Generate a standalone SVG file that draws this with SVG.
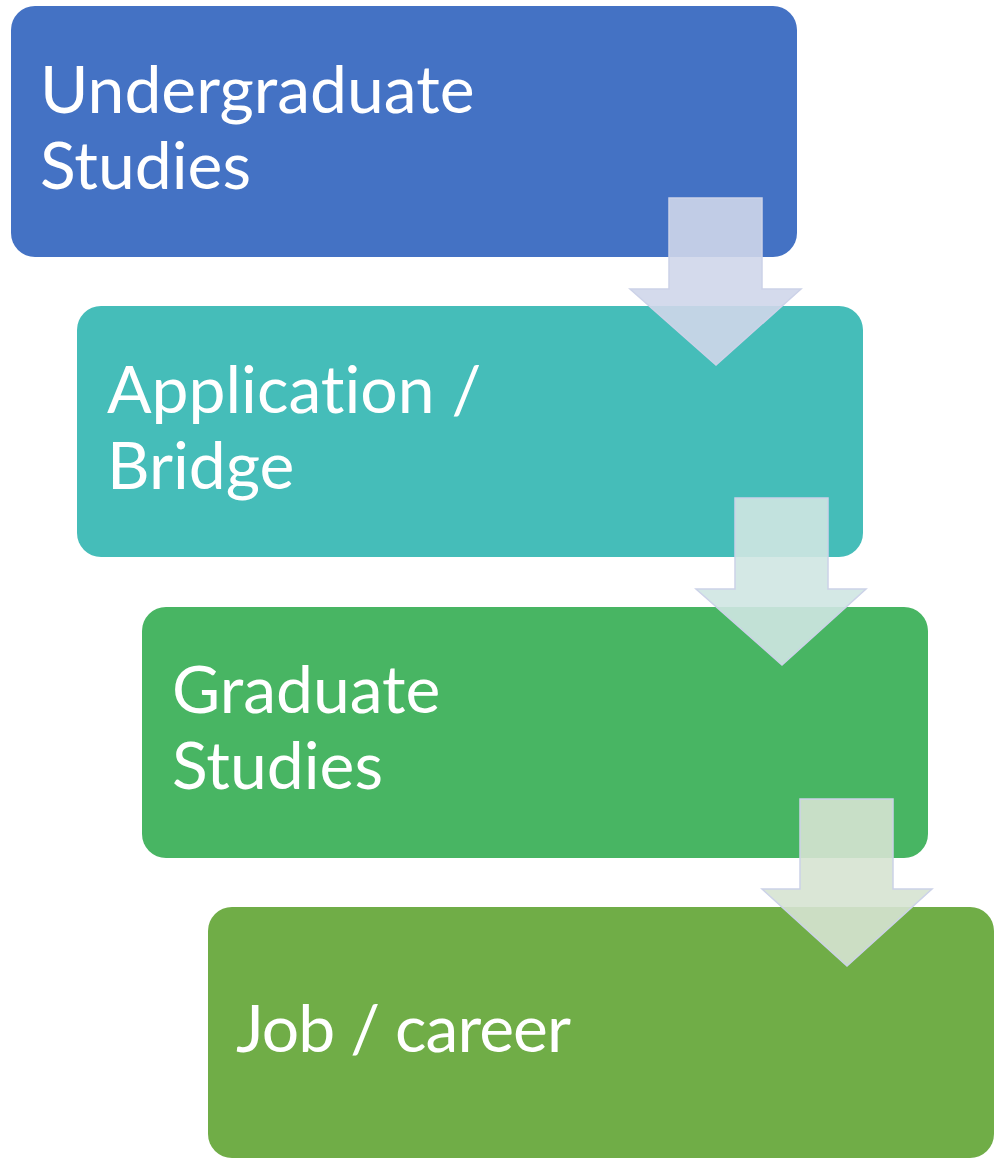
<svg xmlns="http://www.w3.org/2000/svg" width="999" height="1163" viewBox="0 0 999 1163">
<style>
.box{stroke:none}
.lbl{font-family:Lato,"Open Sans","Liberation Sans",sans-serif;font-size:66px;fill:#FFFFFF;font-variant-ligatures:none}
.arr{stroke:#CCD2E8;stroke-width:1.5;fill-opacity:0.9}
</style>
<rect width="999" height="1163" fill="#FFFFFF"/>
<g id="node-undergraduate">
<rect class="box" x="11" y="6" width="786" height="251" rx="24" fill="#4472C4"/>
<text class="lbl" x="40" y="113">Undergraduate</text>
<text class="lbl" x="40" y="189">Studies</text>
</g>
<g id="node-application">
<rect class="box" x="77" y="306" width="786" height="251" rx="24" fill="#45BDB9"/>
<text class="lbl" x="107" y="413">Application /</text>
<text class="lbl" x="107" y="489">Bridge</text>
</g>
<g id="node-graduate">
<rect class="box" x="142" y="607" width="786" height="251" rx="24" fill="#48B563"/>
<text class="lbl" x="172" y="713">Graduate</text>
<text class="lbl" x="172" y="789">Studies</text>
</g>
<g id="node-job">
<rect class="box" x="208" y="907" width="786" height="251" rx="24" fill="#70AD47"/>
<text class="lbl" x="236" y="1052" textLength="335" lengthAdjust="spacing">Job / career</text>
</g>
<g id="connectors">
<path class="arr" fill="#CFD6EA" d="M669,198 H762 V289 H801 L716,365 L630,289 H669 Z"/>
<path class="arr" fill="#CFE5E2" d="M735,498 H828 V589 H866 L782,665 L696,589 H735 Z"/>
<path class="arr" fill="#D6E3D2" d="M800,799 H893 V889 H932 L847,966 L762,889 H800 Z"/>
</g>
</svg>
